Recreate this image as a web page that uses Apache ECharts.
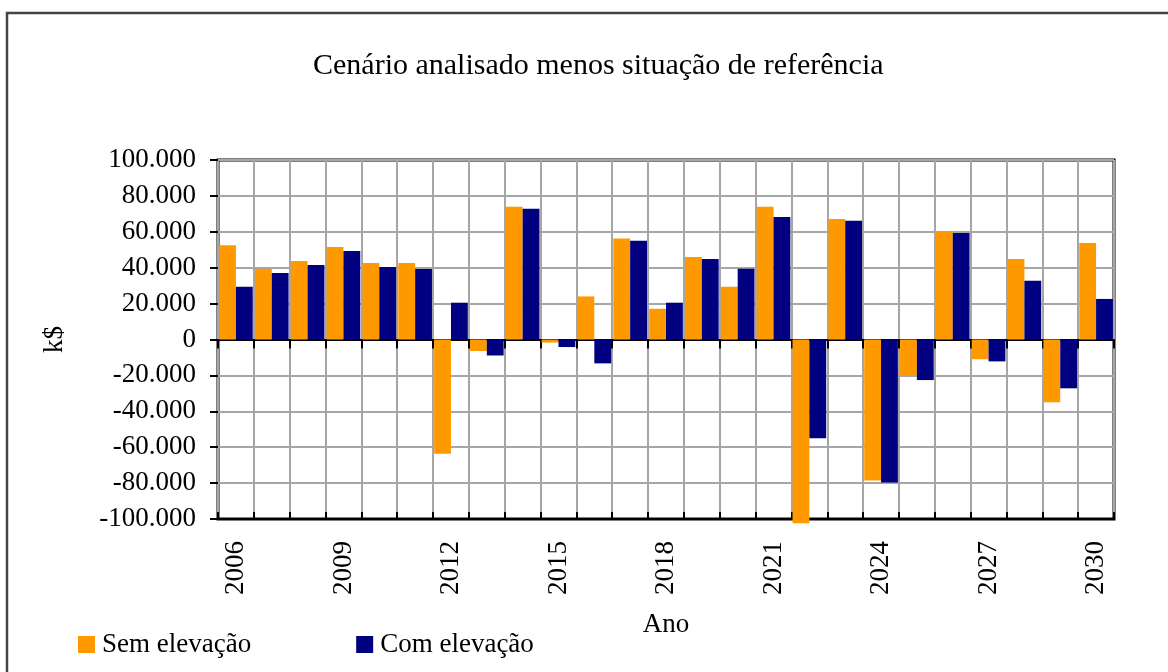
<!DOCTYPE html>
<html>
<head>
<meta charset="utf-8">
<title>Cenário analisado menos situação de referência</title>
<script src="https://cdn.jsdelivr.net/npm/echarts@6/dist/echarts.min.js"></script>
<style>
  html, body { margin: 0; padding: 0; background: #fff; }
  #chart { width: 1168px; height: 672px; }
</style>
</head>
<body>
<div id="chart"></div>
<script>
// anos 2006..2030
const years = ['2006', '2007', '2008', '2009', '2010', '2011', '2012', '2013', '2014', '2015',
  '2016', '2017', '2018', '2019', '2020', '2021', '2022', '2023', '2024', '2025',
  '2026', '2027', '2028', '2029', '2030'];

// k$
const semElevacao = [52500, 39400, 43700, 51600, 42600, 42600, -63700, -6400, 73900, -1700,
  24000, 56300, 17100, 46000, 29400, 73900, -102300, 67200, -78500, -20200,
  60400, -11000, 44800, -34900, 53700];
const comElevacao = [29400, 37100, 41500, 49300, 40400, 39300, 20500, -8900, 72800, -4200,
  -13300, 55000, 20500, 44900, 39400, 68300, -55000, 66100, -79600, -22600,
  59300, -12200, 32700, -27200, 22600];

const serif = '"Liberation Serif", "Times New Roman", serif';

const fmtK = (v) => {
  const s = Math.abs(v).toString().replace(/\B(?=(\d{3})+(?!\d))/g, '.');
  return (v < 0 ? '-' : '') + s;
};

const chart = echarts.init(document.getElementById('chart'));

const zeroAxis = (inside, len) => ({
  type: 'category',
  data: years,
  position: 'bottom',
  axisLine: { show: true, onZero: true, lineStyle: { color: '#000', width: 2 } },
  axisTick: { show: true, inside: inside, length: len, interval: 0, lineStyle: { color: '#000', width: 2 } },
  axisLabel: { show: false },
  splitLine: { show: false }
});

chart.setOption({
  animation: false,
  textStyle: { fontFamily: serif, color: '#000' },
  graphic: [{
    type: 'rect',
    shape: { x: 7, y: 13, width: 1200, height: 700 },
    style: { fill: 'none', stroke: '#444', lineWidth: 2.5 },
    silent: true
  }],
  title: {
    text: 'Cenário analisado menos situação de referência',
    left: 308,
    top: 46,
    textStyle: { fontFamily: serif, fontSize: 30, fontWeight: 'normal', color: '#000' }
  },
  legend: {
    left: 73,
    top: 626,
    icon: 'rect',
    itemWidth: 17,
    itemHeight: 17,
    itemGap: 105,
    textStyle: { fontFamily: serif, fontSize: 27, color: '#000', padding: [0, 0, 0, 2] },
    data: ['Sem elevação', 'Com elevação']
  },
  grid: {
    left: 218, right: 54, top: 160, bottom: 153,
    show: true, borderColor: '#000', borderWidth: 3, backgroundColor: '#fff'
  },
  xAxis: [
    {
      type: 'category',
      data: years,
      position: 'bottom',
      name: 'Ano',
      nameLocation: 'middle',
      nameGap: 92,
      nameTextStyle: { fontFamily: serif, fontSize: 27, color: '#000' },
      axisLine: { show: false, onZero: false },
      axisTick: { show: false },
      axisLabel: { interval: 2, rotate: 90, margin: 22, fontFamily: serif, fontSize: 27, color: '#000' },
      splitLine: { show: true, interval: 0, lineStyle: { color: '#a6a6a6', width: 2 } }
    },
    zeroAxis(false, 9),
    zeroAxis(true, 7)
  ],
  yAxis: {
    type: 'value',
    min: -100000,
    max: 100000,
    interval: 20000,
    name: 'k$',
    nameLocation: 'middle',
    nameGap: 150,
    nameTextStyle: { fontFamily: serif, fontSize: 27, color: '#000' },
    axisLine: { show: false },
    axisTick: { show: true, length: 8, lineStyle: { color: '#000', width: 2 } },
    axisLabel: { formatter: fmtK, margin: 22, fontFamily: serif, fontSize: 27, color: '#000' },
    splitLine: { show: true, lineStyle: { color: '#a6a6a6', width: 2 } }
  },
  series: [
    {
      name: 'Sem elevação',
      type: 'bar',
      data: semElevacao,
      barGap: '0%',
      barCategoryGap: '6%',
      clip: false,
      itemStyle: { color: '#ff9900' }
    },
    {
      name: 'Com elevação',
      type: 'bar',
      data: comElevacao,
      barGap: '0%',
      barCategoryGap: '6%',
      clip: false,
      itemStyle: { color: '#000080' }
    }
  ]
});
</script>
</body>
</html>
